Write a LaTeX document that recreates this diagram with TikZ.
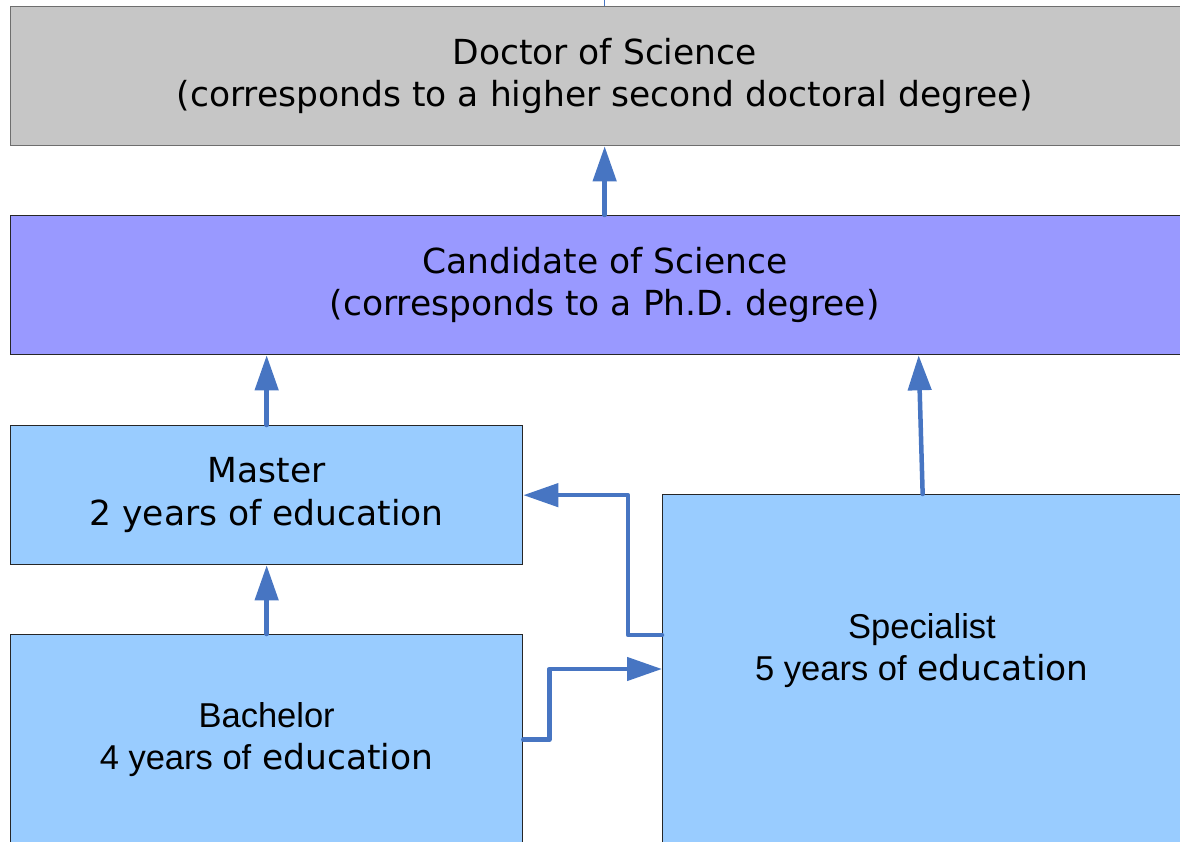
\documentclass[tikz,border=0pt]{standalone}
\usepackage{fontspec}
\setmainfont{DejaVu Sans}
\newfontfamily\arialf{Liberation Sans}
\usetikzlibrary{arrows.meta}
\definecolor{docgray}{HTML}{C6C6C6}
\definecolor{candviolet}{HTML}{9999FF}
\definecolor{lightblue}{HTML}{99CCFF}
\definecolor{arrowblue}{HTML}{4775C2}
\definecolor{bordergray}{HTML}{6E6E6E}
\tikzset{
  box/.style={draw=black!85, line width=1.3pt, rectangle, inner sep=0pt, anchor=north west,
    align=center, font=\fontsize{34.5}{42.5}\selectfont},
  conn/.style={draw=arrowblue, line width=4.5pt, line cap=round, line join=round,
    -{Triangle[length=35pt,width=23pt]}},
  lbl/.style={align=center, font=\fontsize{34.5}{42}\selectfont, inner sep=0pt}
}
\begin{document}
\begin{tikzpicture}[x=1pt,y=-1pt]
\useasboundingbox (0,0) rectangle (1180,842);
\clip (0,0) rectangle (1180,842);
\node[box, draw=bordergray, fill=docgray, minimum width=1188pt, minimum height=139pt] (doctor) at (10,6)
  {Doctor of Science\\(corresponds to a higher second doctoral degree)};
\node[box, fill=candviolet, minimum width=1188pt, minimum height=139pt] (cand) at (10,215)
  {Candidate of Science\\(corresponds to a Ph.D. degree)};
\node[box, fill=lightblue, minimum width=512pt, minimum height=139pt] (master) at (10,425)
  {Master\\2 years of education};
\node[box, fill=lightblue, minimum width=512pt, minimum height=210pt] (bach) at (10,634)
  {{\arialf Bachelor}\\{\arialf 4 years of} education};
\node[box, fill=lightblue, minimum width=520pt, minimum height=360pt] (spec) at (662,494) {};
\node[lbl] (spectext) at (922,651) {{\arialf Specialist}\\{\arialf 5 years of} education};
\coordinate (specout) at ([yshift=-141pt]spec.north west);
\coordinate (specin) at ([yshift=-175pt]spec.north west);
\coordinate (specup) at ([xshift=-4pt]spec.north);
\draw[arrowblue, line width=0.8pt] (doctor.north) -- ++(0,-6);
\draw[conn] (cand.north -| doctor.south) -- (doctor.south);
\draw[conn] (master.north) -- (master.north |- cand.south);
\draw[conn] (bach.north) -- (master.south);
\draw[conn] (spec.north) -- (specup |- cand.south);
\draw[conn] (specout) -- ++(-34,0) |- (master.east);
\draw[conn] (bach.east) -- ++(26,0) |- (specin);
\end{tikzpicture}
\end{document}
